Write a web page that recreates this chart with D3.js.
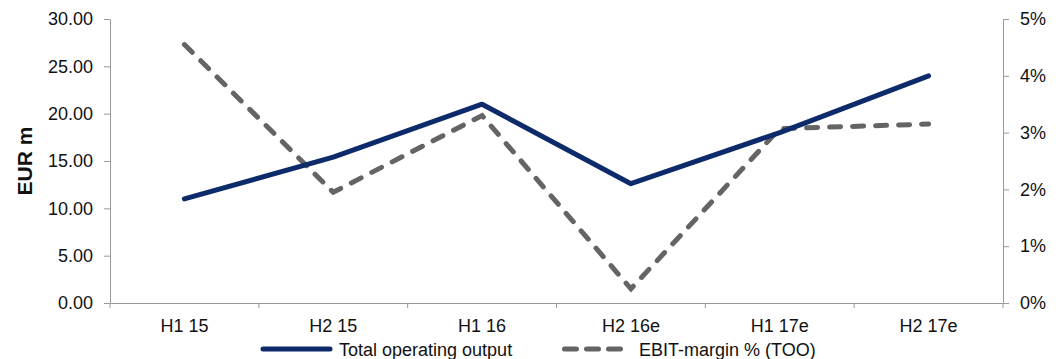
<!DOCTYPE html>
<meta charset="utf-8">
<script src="https://d3js.org/d3.v7.min.js"></script>
<style>
  body { margin: 0; background: #fff; }
  svg { font-family: 'Liberation Sans', Arial, sans-serif; }
  .axis path, .axis line { stroke: #999; }
  .axis text { fill: #111; font-size: 18px; font-family: 'Liberation Sans', Arial, sans-serif; }
</style>
<body>
<div id="chart"></div>
<script>
// chart data
var periods = ["H1 15", "H2 15", "H1 16", "H2 16e", "H1 17e", "H2 17e"];
var operatingOutput = [11.0, 15.4, 21.0, 12.6, 18.0, 24.0];
var ebitMargin = [4.55, 1.95, 3.3, 0.25, 3.07, 3.15];
var leftTicks = [0, 5, 10, 15, 20, 25, 30];
var rightTicks = [0, 1, 2, 3, 4, 5];

var W = 1060, H = 359;
var margin = {top: 19, right: 57, bottom: 56, left: 110};
var width = W - margin.left - margin.right,
    height = H - margin.top - margin.bottom;

var svg = d3.select("#chart").append("svg")
    .attr("width", W).attr("height", H);
var g = svg.append("g")
    .attr("transform", "translate(" + margin.left + "," + margin.top + ")");

var x = d3.scaleBand().domain(periods).range([0, width]);
var y = d3.scaleLinear().domain([0, 30]).range([height, 0]);
var y2 = d3.scaleLinear().domain([0, 5]).range([height, 0]);

// axes
g.append("g").attr("class", "axis")
  .call(d3.axisLeft(y).tickValues(leftTicks).tickFormat(d3.format(".2f")).tickSizeInner(6).tickSizeOuter(0).tickPadding(11));
g.append("g").attr("class", "axis")
  .attr("transform", "translate(" + width + ",0)")
  .call(d3.axisRight(y2).tickValues(rightTicks).tickFormat(function(d) { return d + "%"; }).tickSizeInner(6).tickSizeOuter(0).tickPadding(11));

var xAxis = g.append("g").attr("class", "axis")
  .attr("transform", "translate(0," + height + ")")
  .call(d3.axisBottom(x).tickSize(0).tickPadding(16));
// ticks between categories
xAxis.selectAll(".sep")
  .data(d3.range(periods.length + 1))
  .enter().append("line")
  .attr("x1", function(i) { return i * x.step(); })
  .attr("x2", function(i) { return i * x.step(); })
  .attr("y1", 0).attr("y2", 5)
  .attr("stroke", "#999");

svg.append("text")
  .attr("transform", "translate(32," + 161 + ") rotate(-90)")
  .attr("text-anchor", "middle")
  .style("font-size", "21px")
  .style("font-weight", "bold")
  .attr("fill", "#111")
  .text("EUR m");

var cx = function(d, i) { return x(periods[i]) + x.bandwidth() / 2; };

g.append("path")
  .datum(ebitMargin)
  .attr("fill", "none")
  .attr("stroke", "#646464")
  .attr("stroke-width", 5)
  .attr("stroke-linecap", "round")
  .attr("stroke-dasharray", "11,12")
  .attr("d", d3.line().x(cx).y(function(d) { return y2(d); }));

g.append("path")
  .datum(operatingOutput)
  .attr("fill", "none")
  .attr("stroke", "#0d2b6b")
  .attr("stroke-width", 5)
  .attr("stroke-linecap", "round")
  .attr("stroke-linejoin", "round")
  .attr("d", d3.line().x(cx).y(function(d) { return y(d); }));

// legend
var lg = svg.append("g").attr("transform", "translate(0,349)");
lg.append("line").attr("x1", 263).attr("x2", 330).attr("y1", 0).attr("y2", 0)
  .attr("stroke", "#0d2b6b").attr("stroke-width", 5).attr("stroke-linecap", "round");
lg.append("text").attr("x", 339).attr("y", 6.5).style("font-size", "18px").attr("fill", "#111")
  .text("Total operating output");
lg.append("line").attr("x1", 564.5).attr("x2", 620.5).attr("y1", 0).attr("y2", 0)
  .attr("stroke", "#646464").attr("stroke-width", 5).attr("stroke-linecap", "round")
  .attr("stroke-dasharray", "12,10");
lg.append("text").attr("x", 639).attr("y", 6.5).style("font-size", "18px").attr("fill", "#111")
  .text("EBIT-margin % (TOO)");
</script>
</body>
